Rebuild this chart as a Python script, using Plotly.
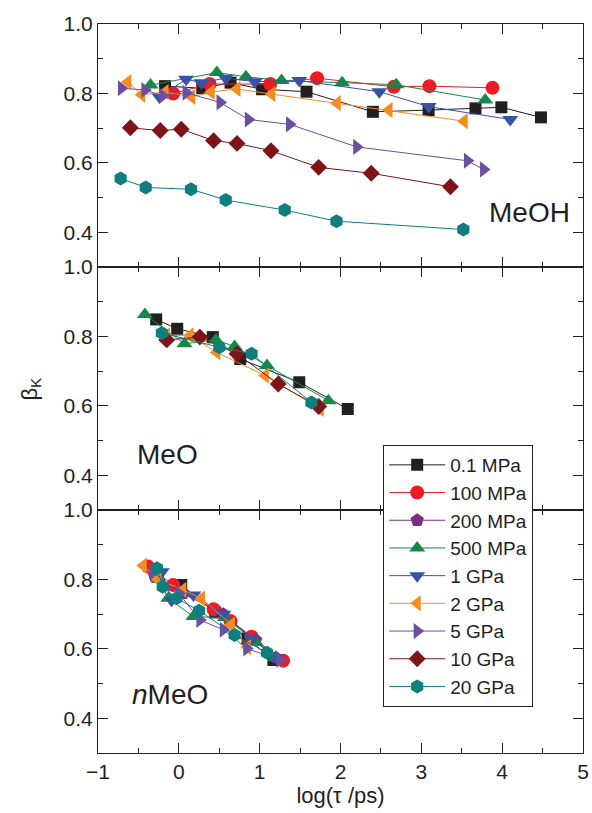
import plotly.graph_objects as go
from plotly.subplots import make_subplots

# ---------------- data ----------------
SERIES = ["0.1 MPa", "100 MPa", "200 MPa", "500 MPa", "1 GPa", "2 GPa", "5 GPa", "10 GPa", "20 GPa"]

# MeOH (top panel)
meoh_01mpa_x = [-0.17, 0.29, 0.64, 1.03, 1.58, 2.40, 3.09, 3.67, 3.99, 4.48]
meoh_01mpa_y = [0.821, 0.815, 0.831, 0.812, 0.805, 0.747, 0.752, 0.757, 0.760, 0.731]
meoh_100mpa_x = [-0.07, 0.38, 1.13, 1.71, 2.66, 3.10, 3.88]
meoh_100mpa_y = [0.800, 0.827, 0.827, 0.844, 0.819, 0.821, 0.816]
meoh_500mpa_x = [-0.35, 0.47, 0.83, 1.27, 2.02, 2.69, 3.79]
meoh_500mpa_y = [0.824, 0.860, 0.848, 0.837, 0.831, 0.825, 0.781]
meoh_1gpa_x = [-0.24, 0.09, 0.28, 0.58, 0.94, 1.49, 2.48, 3.09, 4.10]
meoh_1gpa_y = [0.790, 0.841, 0.831, 0.844, 0.834, 0.837, 0.805, 0.762, 0.725]
meoh_2gpa_x = [-0.63, -0.46, -0.17, 0.16, 0.40, 0.72, 1.15, 1.96, 2.60, 3.53]
meoh_2gpa_y = [0.833, 0.796, 0.804, 0.790, 0.804, 0.813, 0.798, 0.772, 0.752, 0.720]
meoh_5gpa_x = [-0.71, -0.42, -0.20, 0.09, 0.51, 0.86, 1.37, 2.20, 3.57, 3.77]
meoh_5gpa_y = [0.815, 0.810, 0.793, 0.802, 0.774, 0.725, 0.711, 0.646, 0.606, 0.581]
meoh_10gpa_x = [-0.60, -0.23, 0.03, 0.43, 0.72, 1.14, 1.73, 2.38, 3.36]
meoh_10gpa_y = [0.701, 0.693, 0.697, 0.664, 0.656, 0.635, 0.587, 0.570, 0.531]
meoh_20gpa_x = [-0.72, -0.41, 0.15, 0.58, 1.31, 1.95, 3.52]
meoh_20gpa_y = [0.555, 0.529, 0.524, 0.493, 0.464, 0.432, 0.408]

# MeO (middle panel)
meo_01mpa_x = [-0.28, -0.02, 0.42, 0.76, 1.49, 2.09]
meo_01mpa_y = [0.849, 0.822, 0.798, 0.735, 0.668, 0.591]
meo_500mpa_x = [-0.42, 0.07, 0.46, 0.69, 1.09, 1.85]
meo_500mpa_y = [0.863, 0.779, 0.790, 0.771, 0.716, 0.615]
meo_2gpa_x = [-0.15, 0.14, 0.47, 1.07, 1.75]
meo_2gpa_y = [0.803, 0.803, 0.754, 0.687, 0.591]
meo_10gpa_x = [-0.15, 0.26, 0.72, 1.23, 1.73]
meo_10gpa_y = [0.790, 0.798, 0.750, 0.663, 0.598]
meo_20gpa_x = [-0.21, 0.50, 0.90, 1.64]
meo_20gpa_y = [0.810, 0.769, 0.750, 0.610]

# nMeO (bottom panel)
nmeo_01mpa_x = [0.03, 0.45, 0.85, 1.17]
nmeo_01mpa_y = [0.784, 0.705, 0.630, 0.568]
nmeo_100mpa_x = [-0.38, -0.07, 0.43, 0.64, 0.90, 1.29]
nmeo_100mpa_y = [0.837, 0.784, 0.714, 0.680, 0.635, 0.566]
nmeo_200mpa_x = [-0.30, 0.05, 0.55, 0.95, 1.20]
nmeo_200mpa_y = [0.810, 0.760, 0.700, 0.625, 0.575]
nmeo_500mpa_x = [-0.25, -0.13, 0.18, 0.57, 0.95, 1.20]
nmeo_500mpa_y = [0.800, 0.746, 0.693, 0.690, 0.620, 0.575]
nmeo_1gpa_x = [-0.21, -0.09, 0.18, 0.55, 0.90, 1.20]
nmeo_1gpa_y = [0.822, 0.740, 0.755, 0.700, 0.630, 0.575]
nmeo_2gpa_x = [-0.44, -0.26, 0.05, 0.28, 0.65, 0.85]
nmeo_2gpa_y = [0.840, 0.800, 0.770, 0.745, 0.670, 0.605]
nmeo_5gpa_x = [-0.32, 0.00, 0.26, 0.55, 0.84, 1.25]
nmeo_5gpa_y = [0.822, 0.760, 0.683, 0.655, 0.601, 0.568]
nmeo_20gpa_x = [-0.27, -0.20, -0.03, 0.25, 0.69, 1.09]
nmeo_20gpa_y = [0.832, 0.779, 0.746, 0.710, 0.640, 0.589]

# ---------------- styles ----------------
colors = {
    "0.1 MPa": "#231f20", "100 MPa": "#ed1c24", "200 MPa": "#7b2a85",
    "500 MPa": "#15894a", "1 GPa": "#3953a4", "2 GPa": "#f68b1f",
    "5 GPa": "#6a4fa3", "10 GPa": "#7d1518", "20 GPa": "#0f7f7e",
}
symbols = {
    "0.1 MPa": "square", "100 MPa": "circle", "200 MPa": "pentagon",
    "500 MPa": "triangle-up", "1 GPa": "triangle-down", "2 GPa": "triangle-left",
    "5 GPa": "triangle-right", "10 GPa": "diamond", "20 GPa": "hexagon",
}
sizes = {
    "0.1 MPa": 12, "100 MPa": 14, "200 MPa": 14, "500 MPa": 14, "1 GPa": 14,
    "2 GPa": 14, "5 GPa": 14, "10 GPa": 13, "20 GPa": 14,
}

panel_data = {
    1: {"0.1 MPa": (meoh_01mpa_x, meoh_01mpa_y), "100 MPa": (meoh_100mpa_x, meoh_100mpa_y),
        "500 MPa": (meoh_500mpa_x, meoh_500mpa_y), "1 GPa": (meoh_1gpa_x, meoh_1gpa_y),
        "2 GPa": (meoh_2gpa_x, meoh_2gpa_y), "5 GPa": (meoh_5gpa_x, meoh_5gpa_y),
        "10 GPa": (meoh_10gpa_x, meoh_10gpa_y), "20 GPa": (meoh_20gpa_x, meoh_20gpa_y)},
    2: {"0.1 MPa": (meo_01mpa_x, meo_01mpa_y), "500 MPa": (meo_500mpa_x, meo_500mpa_y),
        "2 GPa": (meo_2gpa_x, meo_2gpa_y), "10 GPa": (meo_10gpa_x, meo_10gpa_y),
        "20 GPa": (meo_20gpa_x, meo_20gpa_y)},
    3: {"0.1 MPa": (nmeo_01mpa_x, nmeo_01mpa_y), "100 MPa": (nmeo_100mpa_x, nmeo_100mpa_y),
        "200 MPa": (nmeo_200mpa_x, nmeo_200mpa_y), "500 MPa": (nmeo_500mpa_x, nmeo_500mpa_y),
        "1 GPa": (nmeo_1gpa_x, nmeo_1gpa_y), "2 GPa": (nmeo_2gpa_x, nmeo_2gpa_y),
        "5 GPa": (nmeo_5gpa_x, nmeo_5gpa_y), "20 GPa": (nmeo_20gpa_x, nmeo_20gpa_y)},
}

FONT = "Liberation Sans, Arial, sans-serif"
TXT = "#231f20"

fig = make_subplots(rows=3, cols=1, shared_xaxes=True, vertical_spacing=0)

for name in SERIES:
    first = True
    for row in (1, 2, 3):
        if name not in panel_data[row]:
            continue
        xs, ys = panel_data[row][name]
        fig.add_trace(go.Scatter(
            x=xs, y=ys, mode="lines+markers", name=name, legendgroup=name,
            showlegend=first,
            line=dict(color=colors[name], width=1),
            marker=dict(symbol=symbols[name], size=sizes[name], color=colors[name],
                        line=dict(width=0)),
        ), row=row, col=1)
        first = False

for row in (1, 2, 3):
    fig.update_yaxes(range=[0.3, 1.0], tickvals=[0.4, 0.6, 0.8, 1.0],
                     ticktext=["0.4", "0.6", "0.8", "1.0"],
                     ticks="inside", ticklen=10, tickwidth=1.3, tickcolor=TXT,
                     minor=dict(dtick=0.1, ticks="inside", ticklen=5, tickcolor=TXT, tickwidth=1.3),
                     showline=True, linecolor=TXT, linewidth=1, mirror="ticks",
                     showgrid=False, zeroline=False, automargin=False,
                     tickfont=dict(family=FONT, size=21, color=TXT), row=row, col=1)
    fig.update_xaxes(range=[-1, 5], dtick=1, tick0=0,
                     ticks="inside", ticklen=10, tickwidth=1.3, tickcolor=TXT,
                     minor=dict(dtick=0.5, ticks="inside", ticklen=5, tickcolor=TXT, tickwidth=1.3),
                     showline=True, linecolor=TXT, linewidth=1, mirror="ticks",
                     showgrid=False, zeroline=False, automargin=False,
                     tickfont=dict(family=FONT, size=21, color=TXT), row=row, col=1)

fig.update_xaxes(showticklabels=True, row=3, col=1)
fig.update_xaxes(title=dict(text="log(τ /ps)", font=dict(family=FONT, size=22, color=TXT), standoff=4),
                 row=3, col=1)

annotations = [
    dict(text="β<sub>K</sub>", x=-0.14, y=0.5, xref="paper", yref="paper", showarrow=False,
         xanchor="center", yanchor="middle",
         textangle=-90, font=dict(family=FONT, size=22, color=TXT)),
    dict(text="MeOH", x=0.889, y=0.742, xref="paper", yref="paper", showarrow=False,
         xanchor="center", yanchor="middle",
         font=dict(family=FONT, size=28, color=TXT)),
    dict(text="MeO", x=0.144, y=0.410, xref="paper", yref="paper", showarrow=False,
         xanchor="center", yanchor="middle",
         font=dict(family=FONT, size=28, color=TXT)),
    dict(text="<i>n</i>MeO", x=0.148, y=0.0796, xref="paper", yref="paper", showarrow=False,
         xanchor="center", yanchor="middle",
         font=dict(family=FONT, size=28, color=TXT)),
]

fig.update_layout(
    width=592, height=813,
    margin=dict(l=98, r=9, t=24, b=60),
    paper_bgcolor="white", plot_bgcolor="white",
    showlegend=True,
    legend=dict(x=0.588, y=0.4225, xanchor="left", yanchor="top",
                bordercolor=TXT, borderwidth=1, bgcolor="white",
                font=dict(family=FONT, size=19, color=TXT),
                traceorder="normal", itemwidth=56, tracegroupgap=0,
                entrywidth=115, entrywidthmode="pixels"),
    annotations=annotations,
)

fig.write_html("out.html", config={"displayModeBar": False},
               post_script="document.body.style.margin='0px';")
